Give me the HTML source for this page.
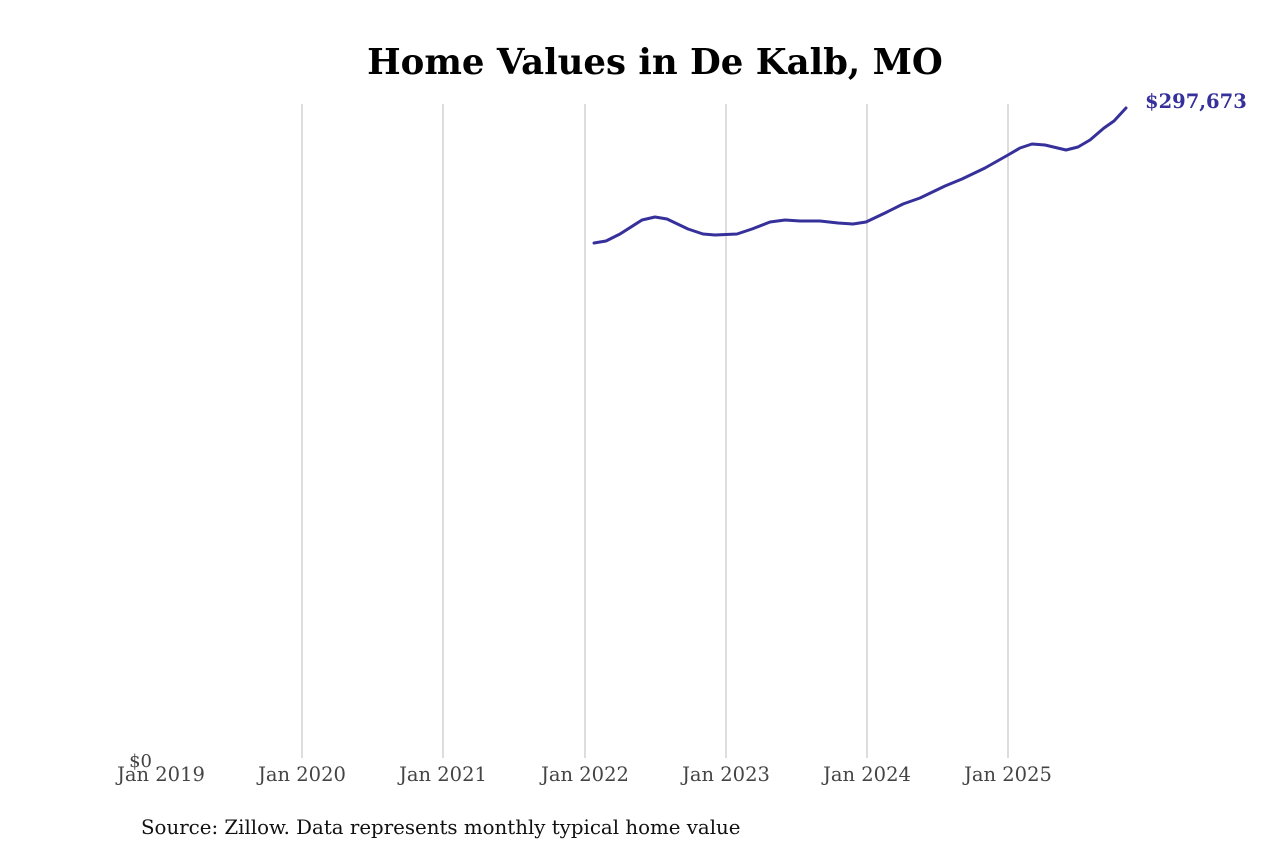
<!DOCTYPE html>
<html><head><style>body{margin:0;background:#fff}</style></head><body>
<svg width="1280" height="853" xmlns="http://www.w3.org/2000/svg" font-family="DejaVu Serif, serif">
<rect width="1280" height="853" fill="#fff"/>
<text x="655" y="74" text-anchor="middle" font-size="35.5" font-weight="bold" fill="#000">Home Values in De Kalb, MO</text>
<g stroke="#bbb" stroke-width="1">
<line x1="302" y1="104" x2="302" y2="758"/>
<line x1="443" y1="104" x2="443" y2="758"/>
<line x1="585" y1="104" x2="585" y2="758"/>
<line x1="726" y1="104" x2="726" y2="758"/>
<line x1="867" y1="104" x2="867" y2="758"/>
<line x1="1008" y1="104" x2="1008" y2="758"/>
</g>
<g font-size="19.5" fill="#444" text-anchor="middle">
<text x="161" y="781">Jan 2019</text>
<text x="302" y="781">Jan 2020</text>
<text x="443" y="781">Jan 2021</text>
<text x="585" y="781">Jan 2022</text>
<text x="726" y="781">Jan 2023</text>
<text x="867" y="781">Jan 2024</text>
<text x="1008" y="781">Jan 2025</text>
</g>
<text x="152" y="767" font-size="18" fill="#444" text-anchor="end">$0</text>
<polyline fill="none" stroke="#36309a" stroke-width="3" stroke-linejoin="round" stroke-linecap="round" points="594,243 606,241 620,234 642,220 655,217 667,219 688,229 703,234 715,235 737,234 752,229 770,222 785,220 800,221 820,221 838,223 853,224 866,222 885,213 903,204 920,198 945,186 962,179 985,168 1008,155 1020,148 1032,144 1045,145 1066,150 1078,147 1090,140 1104,128 1114,121 1126,108"/>
<text x="1145" y="108" font-size="19.5" font-weight="bold" fill="#36309a">$297,673</text>
<text x="141" y="834" font-size="19.8" fill="#111">Source: Zillow. Data represents monthly typical home value</text>
</svg>
</body></html>
